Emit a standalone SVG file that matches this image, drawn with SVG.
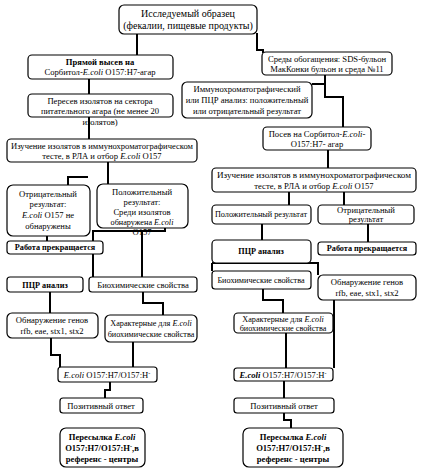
<svg xmlns="http://www.w3.org/2000/svg" width="423" height="471" viewBox="0 0 423 471">
<style>
.b{fill:#fff;stroke:#000;stroke-width:1.2}
.c{fill:none;stroke:#000;stroke-width:2}
text{font-family:"Liberation Serif","Times New Roman",serif;font-size:8.6px;text-anchor:middle;fill:#000}
.bd{font-weight:bold}
.i{font-style:italic}
.s{font-size:8.2px}
</style>
<rect width="423" height="471" fill="#fff"/>
<g id="connectors">
<path class="c" d="M137,33V55"/>
<path class="c" d="M257,33V50H263V53"/>
<path class="c" d="M89,78V94"/>
<path class="c" d="M89,117V139"/>
<path class="c" d="M325,75V97H343V127"/>
<path class="c" d="M312,84H325"/>
<path class="c" d="M328,150V168"/>
<path class="c" d="M108,162V184"/>
<path class="c" d="M88,177H68V185"/>
<path class="c" d="M47,236V241"/>
<path class="c" d="M165,228V231H93V277"/>
<path class="c" d="M142,231V277"/>
<path class="c" d="M50,292V313"/>
<path class="c" d="M143,292V303H163V315"/>
<path class="c" d="M51,338V355H60V367"/>
<path class="c" d="M133,342V367"/>
<path class="c" d="M110,382V390H105V398"/>
<path class="c" d="M289,192V205"/>
<path class="c" d="M344,192V205"/>
<path class="c" d="M262,224V240"/>
<path class="c" d="M368,224V242"/>
<path class="c" d="M212,263V271"/>
<path class="c" d="M212,263H318V275"/>
<path class="c" d="M263,289V300H283V313"/>
<path class="c" d="M286,333V368"/>
<path class="c" d="M334,300V368"/>
<path class="c" d="M284,381V398"/>
<path class="c" d="M284,413V420H291V428"/>
</g>
<g id="n_start"><rect class="b" x="119" y="5" width="138" height="29" rx="5"/>
<text x="188" y="17" style="font-size:10px">Исследуемый образец</text>
<text x="188" y="29" style="font-size:10px">(фекалии, пищевые продукты)</text></g>
<g id="n_direct"><rect class="b" x="28" y="55" width="145" height="24" rx="4"/>
<text x="100" y="65" class="bd">Прямой высев на</text>
<text x="100" y="75">Сорбитол-<tspan class="i">E.coli</tspan> O157:H7-агар</text></g>
<g id="n_enrich"><rect class="b" x="262" y="52" width="130" height="23" rx="4"/>
<text x="327" y="62">Среды обогащения: SDS-бульон</text>
<text x="327" y="72">МакКонки бульон и среда №11</text></g>
<g id="n_immuno"><rect class="b" x="182" y="82" width="130" height="36" rx="5"/>
<text x="247" y="92">Иммунохроматографический</text>
<text x="247" y="103">или ПЦР анализ: положительный</text>
<text x="247" y="114">или отрицательный результат</text></g>
<g id="n_reseed"><rect class="b" x="28" y="94" width="145" height="23" rx="4"/>
<text x="100" y="104">Пересев изолятов на сектора</text>
<text x="100" y="114">питательного агара (не менее 20</text>
<text x="100" y="125">изолятов)</text></g>
<g id="n_sorb"><rect class="b" x="263" y="127" width="108" height="23" rx="4"/>
<text x="317" y="137">Посев на Сорбитол-<tspan class="i">E.coli</tspan>-</text>
<text x="317" y="147">O157:H7- агар</text></g>
<g id="n_studyL"><rect class="b" x="7" y="139" width="190" height="23" rx="4"/>
<text x="102" y="149" textLength="182" lengthAdjust="spacingAndGlyphs">Изучение изолятов в иммунохроматографическом</text>
<text x="102" y="159">тесте, в РЛА и отбор <tspan class="i">E.coli</tspan> O157</text></g>
<g id="n_studyR"><rect class="b" x="212" y="168" width="204" height="24" rx="4"/>
<text x="314" y="178" textLength="194" lengthAdjust="spacingAndGlyphs">Изучение изолятов в иммунохроматографическом</text>
<text x="314" y="189">тесте, в РЛА и отбор <tspan class="i">E.coli</tspan> O157</text></g>
<g id="n_negL"><rect class="b" x="7" y="185" width="83" height="51" rx="6"/>
<text x="48" y="197">Отрицательный</text>
<text x="48" y="207">результат:</text>
<text x="48" y="218"><tspan class="i">E.coli</tspan> O157 не</text>
<text x="48" y="229">обнаружены</text></g>
<g id="n_posL"><rect class="b" x="97" y="184" width="91" height="44" rx="6"/>
<text x="142" y="195">Положительный</text>
<text x="142" y="205">результат:</text>
<text x="142" y="215">Среди изолятов</text>
<text x="142" y="225" class="s">обнаружена <tspan class="i">E.coli</tspan></text>
<text x="142" y="235">O157</text></g>
<g id="n_posR"><rect class="b" x="212" y="205" width="99" height="19" rx="4"/>
<text x="261" y="217" class="s">Положительный результат</text></g>
<g id="n_negR"><rect class="b" x="318" y="205" width="96" height="19" rx="4"/>
<text x="366" y="213">Отрицательный</text>
<text x="366" y="222">результат</text></g>
<g id="n_stopL"><rect class="b" x="7" y="241" width="96" height="13" rx="3"/>
<text x="55" y="250" class="bd s">Работа прекращается</text></g>
<g id="n_stopR"><rect class="b" x="318" y="242" width="98" height="13" rx="3"/>
<text x="367" y="251" class="bd s">Работа прекращается</text></g>
<g id="n_pcrR"><rect class="b" x="212" y="240" width="99" height="23" rx="4"/>
<text x="261" y="254" class="bd s">ПЦР анализ</text></g>
<g id="n_pcrL"><rect class="b" x="7" y="277" width="76" height="15" rx="3"/>
<text x="45" y="288" class="bd s">ПЦР анализ</text></g>
<g id="n_bioL"><rect class="b" x="89" y="277" width="108" height="15" rx="3"/>
<text x="143" y="288">Биохимические свойства</text></g>
<g id="n_bioR"><rect class="b" x="212" y="271" width="99" height="18" rx="3"/>
<text x="261" y="283" class="s">Биохимические свойства</text></g>
<g id="n_genesR"><rect class="b" x="318" y="275" width="98" height="25" rx="5"/>
<text x="367" y="285">Обнаружение генов</text>
<text x="367" y="296">rfb, eae, stx1, stx2</text></g>
<g id="n_genesL"><rect class="b" x="7" y="313" width="91" height="25" rx="5"/>
<text x="52" y="323">Обнаружение генов</text>
<text x="52" y="334">rfb, eae, stx1, stx2</text></g>
<g id="n_charL"><rect class="b" x="105" y="315" width="92" height="27" rx="5"/>
<text x="151" y="326" class="s">Характерные для <tspan class="i">E.coli</tspan></text>
<text x="151" y="337" class="s">биохимические свойства</text></g>
<g id="n_charR"><rect class="b" x="234" y="313" width="99" height="20" rx="4"/>
<text x="283" y="322" class="s">Характерные для <tspan class="i">E.coli</tspan></text>
<text x="283" y="331" class="s">биохимические свойства</text></g>
<g id="n_ecoliL"><rect class="b" x="58" y="367" width="99" height="15" rx="3"/>
<text x="107" y="378"><tspan class="i">E.coli</tspan> O157:H7/O157:H<tspan baseline-shift="super" style="font-size:6px">-</tspan></text></g>
<g id="n_ecoliR"><rect class="b" x="234" y="368" width="99" height="13" rx="3"/>
<text x="283" y="378"><tspan class="i bd">E.coli</tspan> O157:H7/O157:H<tspan baseline-shift="super" style="font-size:6px">-</tspan></text></g>
<g id="n_positiveL"><rect class="b" x="60" y="398" width="83" height="15" rx="3"/>
<text x="101" y="409">Позитивный ответ</text></g>
<g id="n_positiveR"><rect class="b" x="234" y="398" width="100" height="15" rx="3"/>
<text x="284" y="409">Позитивный ответ</text></g>
<g id="n_sendL"><rect class="b" x="60" y="428" width="85" height="39" rx="6"/>
<text x="102" y="440" class="bd">Пересылка <tspan class="i">E.coli</tspan></text>
<text x="102" y="451" class="bd">O157:H7/O157:H<tspan baseline-shift="super" style="font-size:6px">-</tspan>,в</text>
<text x="102" y="462" class="bd">референс - центры</text></g>
<g id="n_sendR"><rect class="b" x="243" y="428" width="100" height="39" rx="6"/>
<text x="293" y="440" class="bd">Пересылка <tspan class="i">E.coli</tspan></text>
<text x="293" y="451" class="bd">O157:H7/O157:H<tspan baseline-shift="super" style="font-size:6px">-</tspan>,в</text>
<text x="293" y="462" class="bd">референс - центры</text></g>
</svg>
